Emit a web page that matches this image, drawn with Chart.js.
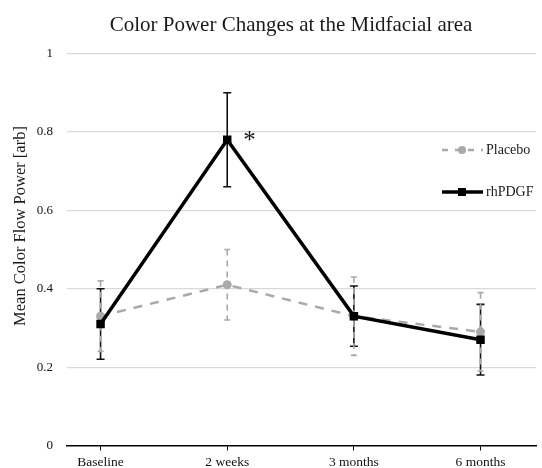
<!DOCTYPE html>
<html>
<head>
<meta charset="utf-8">
<script src="https://cdn.jsdelivr.net/npm/chart.js@4.4.0/dist/chart.umd.min.js"></script>
<style>
    html, body { margin: 0; padding: 0; background: #fff; }
    #wrap { width: 542px; height: 468px; position: relative; }
</style>
</head>
<body>
<div id="wrap"><canvas id="chart"></canvas></div>
<script>
// Chart data
const categories = ['Baseline', '2 weeks', '3 months', '6 months'];
const placeboMean = [0.33, 0.41, 0.33, 0.29];
const placeboErr = [0.09, 0.09, 0.10, 0.10];
const rhpdgfMean = [0.31, 0.78, 0.33, 0.27];
const rhpdgfErr = [0.09, 0.12, 0.077, 0.09];
const yTicks = [0, 0.2, 0.4, 0.6, 0.8, 1];
const significantIndex = 1; // the "*" at 2 weeks

const SERIF = '"Liberation Serif", "DejaVu Serif", serif';
const GRAY = '#a9a9a9';

const toPoints = (arr) => arr.map((v, i) => ({ x: i, y: v }));

// Vertical error bars drawn from the scales
const errorBars = {
    id: 'errorBars',
    beforeDatasetsDraw(chart) {
        const ctx = chart.ctx;
        const xs = chart.scales.x;
        const ys = chart.scales.y;
        chart.data.datasets.forEach(ds => {
            const err = ds.errors;
            ctx.save();
            ctx.strokeStyle = ds.errColor;
            ctx.lineWidth = ds.errWidth;
            ctx.setLineDash(ds.errDash);
            ds.data.forEach((p, i) => {
                const x = xs.getPixelForValue(p.x);
                const top = ys.getPixelForValue(p.y + err[i]);
                const bot = ys.getPixelForValue(p.y - err[i]);
                ctx.beginPath();
                ctx.moveTo(x, top);
                ctx.lineTo(x, bot);
                ctx.stroke();
                ctx.save();
                ctx.setLineDash([]);
                ctx.beginPath();
                ctx.moveTo(x - ds.capHalf, top);
                ctx.lineTo(x + ds.capHalf, top);
                ctx.moveTo(x - ds.capHalf, bot);
                ctx.lineTo(x + ds.capHalf, bot);
                ctx.stroke();
                ctx.restore();
            });
            ctx.restore();
        });
    }
};

// Title, axis title, legend and the significance mark
const decorations = {
    id: 'decorations',
    afterDraw(chart) {
        const ctx = chart.ctx;
        const xs = chart.scales.x;
        const ys = chart.scales.y;
        ctx.save();
        ctx.fillStyle = '#1a1a1a';
        ctx.textAlign = 'center';
        ctx.textBaseline = 'alphabetic';
        ctx.font = '21px ' + SERIF;
        ctx.fillText('Color Power Changes at the Midfacial area', 291, 31);

        ctx.save();
        ctx.translate(21, 226);
        ctx.rotate(-Math.PI / 2);
        ctx.textBaseline = 'middle';
        ctx.font = '16.5px ' + SERIF;
        ctx.fillText('Mean Color Flow Power [arb]', 0, 0);
        ctx.restore();

        // asterisk next to rhPDGF at 2 weeks
        ctx.font = '25px ' + SERIF;
        ctx.textAlign = 'left';
        ctx.textBaseline = 'middle';
        ctx.fillText('*', xs.getPixelForValue(significantIndex) + 16,
            ys.getPixelForValue(rhpdgfMean[significantIndex]) + 2);

        // legend
        ctx.font = '14px ' + SERIF;
        ctx.textBaseline = 'middle';
        const rows = [
            { label: 'Placebo', y: 150, color: GRAY, width: 2.5, dash: [6, 7], marker: 'circle' },
            { label: 'rhPDGF', y: 192, color: '#000', width: 3.5, dash: [], marker: 'rect' }
        ];
        rows.forEach(r => {
            ctx.save();
            ctx.strokeStyle = r.color;
            ctx.fillStyle = r.color;
            ctx.lineWidth = r.width;
            ctx.setLineDash(r.dash);
            ctx.beginPath();
            ctx.moveTo(442, r.y);
            ctx.lineTo(483, r.y);
            ctx.stroke();
            ctx.setLineDash([]);
            if (r.marker === 'circle') {
                ctx.beginPath();
                ctx.arc(462, r.y, 4, 0, Math.PI * 2);
                ctx.fill();
            } else {
                ctx.fillRect(458, r.y - 4, 8, 8);
            }
            ctx.restore();
            ctx.fillStyle = '#1a1a1a';
            ctx.fillText(r.label, 486, r.y);
        });
        ctx.restore();
    }
};

new Chart(document.getElementById('chart'), {
    type: 'line',
    data: {
        datasets: [
            {
                label: 'rhPDGF',
                data: toPoints(rhpdgfMean),
                errors: rhpdgfErr,
                errColor: '#111',
                errWidth: 1.6,
                errDash: [],
                capHalf: 4,
                borderColor: '#000',
                backgroundColor: '#000',
                borderWidth: 3.5,
                pointStyle: 'rect',
                pointRadius: 6,
                pointBorderWidth: 0,
                order: 0
            },
            {
                label: 'Placebo',
                data: toPoints(placeboMean),
                errors: placeboErr,
                errColor: GRAY,
                errWidth: 1.6,
                errDash: [6, 5],
                capHalf: 3,
                borderColor: GRAY,
                backgroundColor: GRAY,
                borderWidth: 2.5,
                borderDash: [9, 8],
                pointStyle: 'circle',
                pointRadius: 4.5,
                pointBorderWidth: 0,
                order: 1
            }
        ]
    },
    options: {
        responsive: true,
        maintainAspectRatio: false,
        animation: false,
        layout: { padding: { top: 53.5, right: 0, bottom: 0, left: 0 } },
        plugins: {
            legend: { display: false },
            title: { display: false },
            tooltip: { enabled: false }
        },
        scales: {
            x: {
                type: 'linear',
                min: -0.265,
                max: 3.438,
                afterBuildTicks: (scale) => {
                    scale.ticks = categories.map((c, i) => ({ value: i }));
                },
                afterFit: (scale) => { scale.height = 22.5; },
                grid: {
                    drawOnChartArea: false,
                    drawTicks: true,
                    tickLength: 5,
                    tickColor: '#000',
                    tickWidth: 1
                },
                border: { display: true, color: '#000', width: 1.5 },
                ticks: {
                    padding: 4,
                    maxRotation: 0,
                    color: '#111',
                    font: { family: SERIF, size: 13.5 },
                    callback: (v) => categories[v]
                }
            },
            y: {
                min: 0,
                max: 1,
                afterBuildTicks: (scale) => {
                    scale.ticks = yTicks.map(v => ({ value: v }));
                },
                afterFit: (scale) => { scale.width = 67; },
                grid: {
                    color: (c) => c.tick && c.tick.value === 0 ? 'rgba(0,0,0,0)' : '#d9d9d9',
                    lineWidth: 1.2,
                    drawTicks: false
                },
                border: { display: false },
                ticks: {
                    padding: 14,
                    color: '#111',
                    font: { family: SERIF, size: 13 },
                    callback: (v) => String(v)
                }
            }
        }
    },
    plugins: [errorBars, decorations]
});
</script>
</body>
</html>
